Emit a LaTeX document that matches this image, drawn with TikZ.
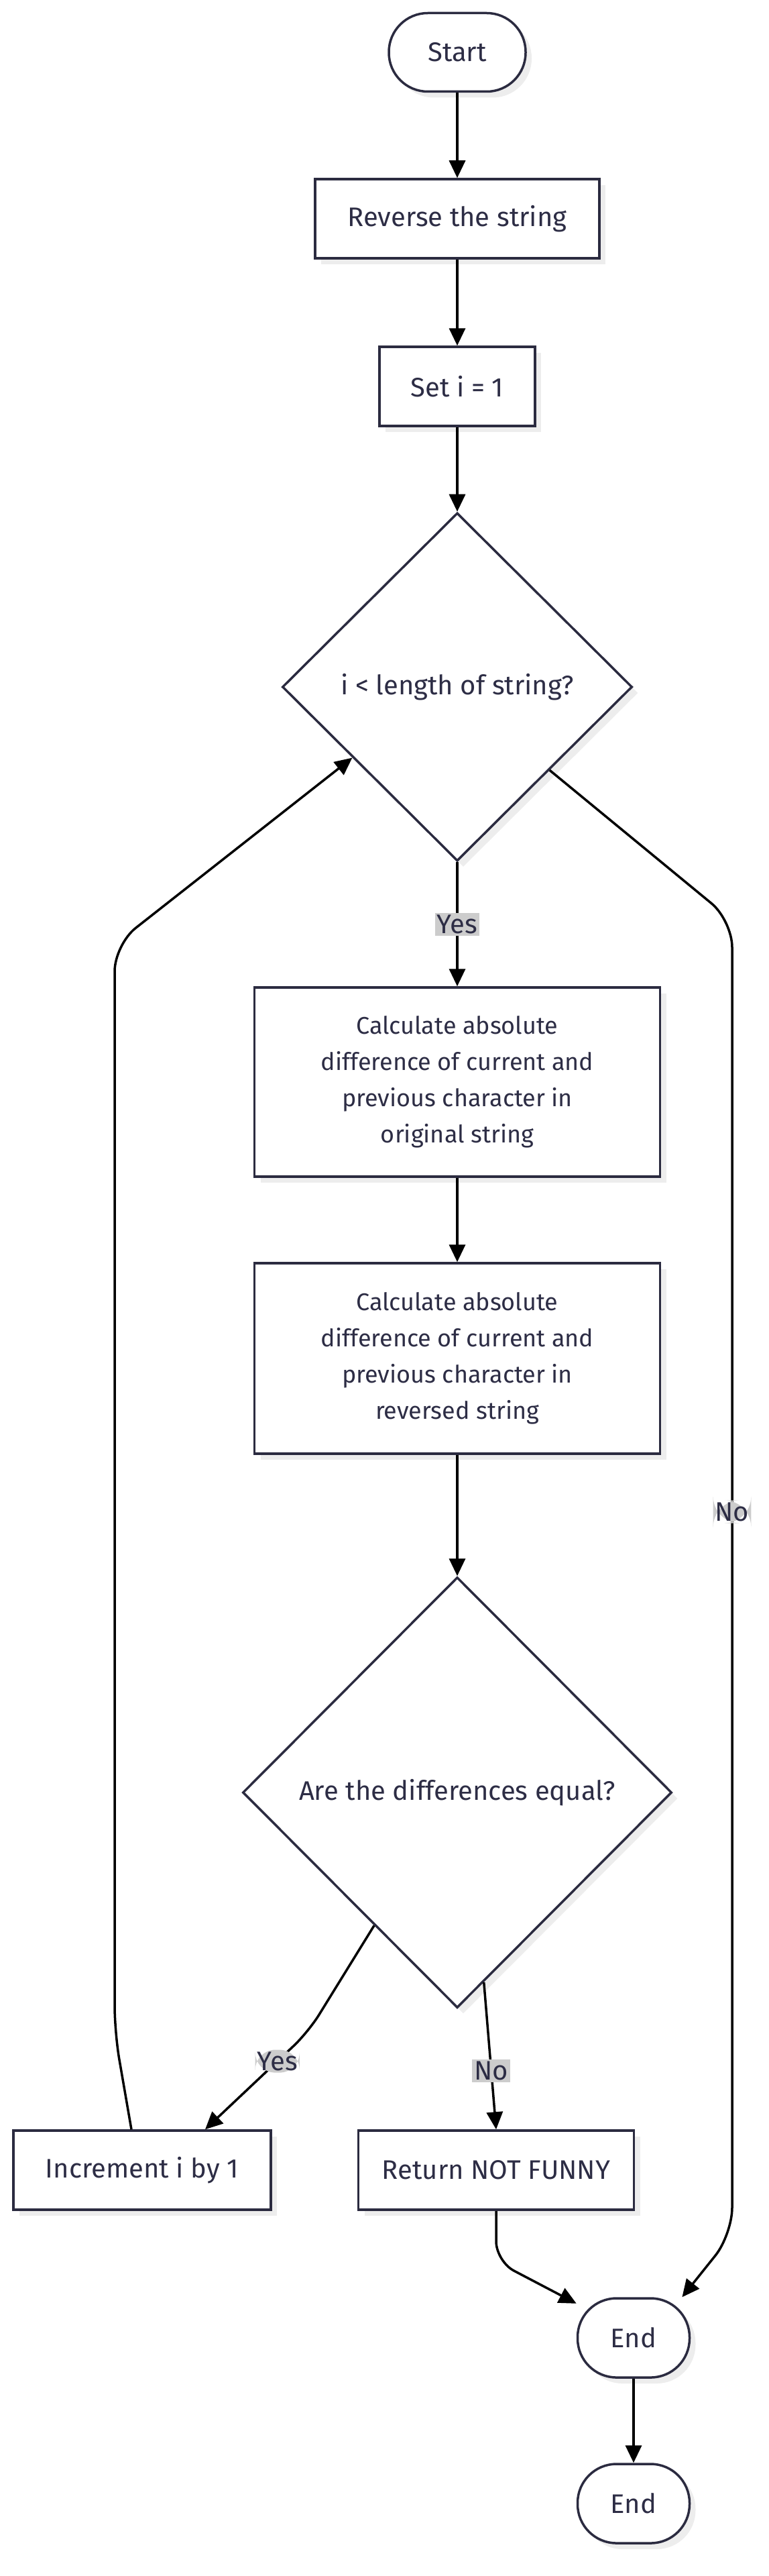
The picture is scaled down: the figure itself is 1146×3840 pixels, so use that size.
\documentclass[tikz,border=0pt]{standalone}
\usepackage{fontspec}
\setmainfont{Fira Sans}
\usetikzlibrary{shapes.geometric,arrows.meta,shadows}
\definecolor{linec}{HTML}{2B2B40}
\definecolor{txtc}{HTML}{2D2D45}
\definecolor{lblc}{HTML}{CCCCCC}
\newcommand\flowfont{\fontsize{40}{54}\selectfont}
\newcommand\calcfont{\fontsize{36}{54}\selectfont}

\begin{document}
\begin{tikzpicture}[x=1pt,y=-1pt,
    base/.style={draw=linec,line width=3.5pt,fill=white,text=txtc,font=\flowfont,inner sep=0pt,
      drop shadow={shadow xshift=9pt,shadow yshift=-9pt,fill=black!7,opacity=1}},
    term/.style={base,rectangle,rounded corners=58pt,minimum height=117pt},
    proc/.style={base,rectangle,minimum height=118pt},
    cond/.style={base,diamond},
    lbl/.style={fill=lblc,text=txtc,font=\flowfont,inner sep=3pt},
    arr/.style={draw=black,line width=3.5pt,-{Triangle[length=26pt,width=24pt]}}]

		\useasboundingbox (0,0) rectangle (1146,3840);

		\node [term, minimum width=204pt] (0) at (682, 78) {Start};
		\node [proc, minimum width=424pt] (1) at (682, 326) {Reverse the string};
		\node [proc, minimum width=232pt] (2) at (682, 576) {Set i = 1};
		\node [cond, minimum width=522pt, minimum height=519pt] (3) at (682, 1024) {i < length of string?};
		\node [proc, minimum width=605pt, minimum height=282pt, align=center, font=\calcfont] (4) at (682, 1613)
			{Calculate absolute\\difference of current and\\previous character in\\original string};
		\node [proc, minimum width=605pt, minimum height=284pt, align=center, font=\calcfont] (5) at (682, 2025)
			{Calculate absolute\\difference of current and\\previous character in\\reversed string};
		\node [cond, minimum width=640pt, minimum height=642pt] (6) at (682, 2672) {Are the differences equal?};
		\node [proc, minimum width=384pt] (7) at (212, 3235) {Increment i by 1};
		\node [proc, minimum width=411pt] (8) at (740, 3235) {Return NOT FUNNY};
		\node [term, minimum width=167pt, minimum height=118pt] (9) at (945, 3485) {End};
		\node [term, minimum width=167pt, minimum height=118pt] (10) at (945, 3732) {End};

		\draw [arr] (0) to (1);
		\draw [arr] (1) to (2);
		\draw [arr] (2) to (3);
		\draw [arr] (3) to node [lbl] {Yes} (4);
		\draw [arr] (4) to (5);
		\draw [arr] (5) to (6);
		\draw [arr, rounded corners=30pt] (6.238) -- (460, 3029) -- node [lbl, pos=0.3] {Yes} ([xshift=94pt]7.north);
		\draw [arr] (6.278) to node [lbl, pos=0.6] {No} (8.north);
		\draw [arr, rounded corners=40pt] ([xshift=-16pt]7.north) -- (171, 3030) -- (171, 1408) -- (3.214);
		\draw [arr, rounded corners=40pt] (3.318) -- (1092, 1372) -- node [lbl, pos=0.45] {No} (1092, 3331) -- (9.40);
		\draw [arr, rounded corners=30pt] (8.south) -- (740, 3371) -- (9.149);
		\draw [arr] (9) to (10);
\end{tikzpicture}
\end{document}
